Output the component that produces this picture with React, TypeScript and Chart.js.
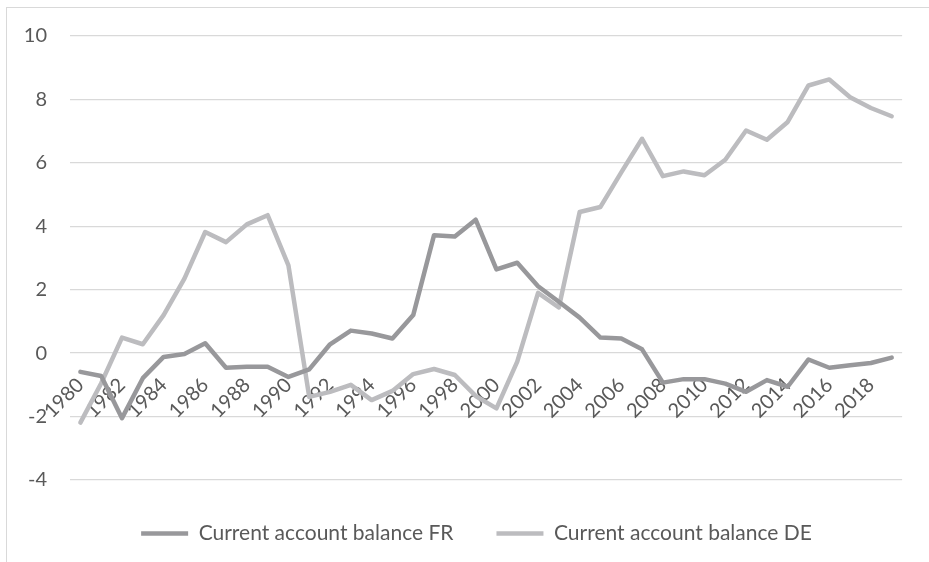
import React, { useEffect, useRef } from "react";
import { Chart, registerables } from "chart.js";

Chart.register(...registerables);

const years: string[] = [
  "1980","1981","1982","1983","1984","1985","1986","1987","1988","1989",
  "1990","1991","1992","1993","1994","1995","1996","1997","1998","1999",
  "2000","2001","2002","2003","2004","2005","2006","2007","2008","2009",
  "2010","2011","2012","2013","2014","2015","2016","2017","2018","2019",
];

const balanceFR: number[] = [
  -0.59, -0.72, -2.05, -0.79, -0.12, -0.03, 0.31, -0.46, -0.43, -0.43,
  -0.75, -0.51, 0.28, 0.71, 0.62, 0.46, 1.2, 3.72, 3.68, 4.21,
  2.64, 2.85, 2.11, 1.62, 1.12, 0.49, 0.46, 0.12, -0.93, -0.82,
  -0.82, -0.96, -1.22, -0.85, -1.06, -0.2, -0.46, -0.38, -0.31, -0.14,
];

const balanceDE: number[] = [
  -2.19, -0.95, 0.49, 0.28, 1.2, 2.35, 3.82, 3.5, 4.06, 4.35,
  2.77, -1.38, -1.22, -1.0, -1.48, -1.19, -0.66, -0.5, -0.69, -1.35,
  -1.74, -0.27, 1.9, 1.44, 4.45, 4.61, 5.7, 6.76, 5.58, 5.73,
  5.61, 6.1, 7.02, 6.73, 7.29, 8.44, 8.63, 8.07, 7.73, 7.47,
];

const yTicks: number[] = [-4, -2, 0, 2, 4, 6, 8, 10];

const seriesNames: string[] = ["Current account balance FR", "Current account balance DE"];

const FONT = "Lato";
const TEXT = "#595959";

export default function App() {
  const ref = useRef<HTMLCanvasElement | null>(null);

  useEffect(() => {
    if (!ref.current) return;
    const chart = new Chart(ref.current, {
      type: "line",
      data: {
        labels: years,
        datasets: [
          {
            label: seriesNames[0],
            data: balanceFR,
            borderColor: "#98989b",
            backgroundColor: "#98989b",
            borderWidth: 4.5,
            pointRadius: 0,
            tension: 0,
            borderJoinStyle: "round",
            borderCapStyle: "round",
          },
          {
            label: seriesNames[1],
            data: balanceDE,
            borderColor: "#bcbcbf",
            backgroundColor: "#bcbcbf",
            borderWidth: 4.5,
            pointRadius: 0,
            tension: 0,
            borderJoinStyle: "round",
            borderCapStyle: "round",
          },
        ],
      },
      options: {
        responsive: false,
        animation: false,
        layout: { padding: { left: 50, right: 26, top: 36, bottom: 8 } },
        plugins: {
          tooltip: { enabled: false },
          title: { display: false },
          legend: {
            position: "bottom",
            labels: {
              usePointStyle: true,
              pointStyle: "line",
              pointStyleWidth: 47,
              padding: 43,
              color: TEXT,
              font: { family: FONT, size: 21 },
            },
          },
        },
        scales: {
          x: {
            type: "category",
            position: { y: 0 },
            offset: true,
            grid: { display: false, drawTicks: false },
            border: { display: false },
            afterFit: (s: any) => {
              s.height = 0;
            },
            ticks: {
              autoSkip: false,
              minRotation: 45,
              maxRotation: 45,
              padding: 20,
              color: TEXT,
              font: { family: FONT, size: 20 },
              callback: (_v: any, i: number) => (i % 2 === 0 ? years[i] : ""),
            },
          },
          y: {
            min: -4,
            max: 10,
            afterFit: (s: any) => {
              s.width = 20;
              s._computeLabelArea = () => undefined;
            },
            afterBuildTicks: (s: any) => {
              s.ticks = yTicks.map((v) => ({ value: v }));
            },
            grid: { color: "#d9d9d9", lineWidth: 1.3, drawTicks: false },
            border: { display: false },
            ticks: {
              padding: 23,
              color: TEXT,
              font: { family: FONT, size: 20 },
            },
          },
        },
      },
    });
    return () => chart.destroy();
  }, []);

  return (
    <div style={{ position: "fixed", left: 0, top: 0, width: 929, height: 562, overflow: "hidden", background: "#fff" }}>
      <div
        style={{
          position: "absolute",
          left: 6,
          top: 7,
          width: 1000,
          height: 1000,
          border: "1px solid #d9d9d9",
          boxSizing: "border-box",
        }}
      />
      <canvas ref={ref} width={929} height={562} style={{ position: "absolute", left: 0, top: 0, display: "block" }} />
    </div>
  );
}
